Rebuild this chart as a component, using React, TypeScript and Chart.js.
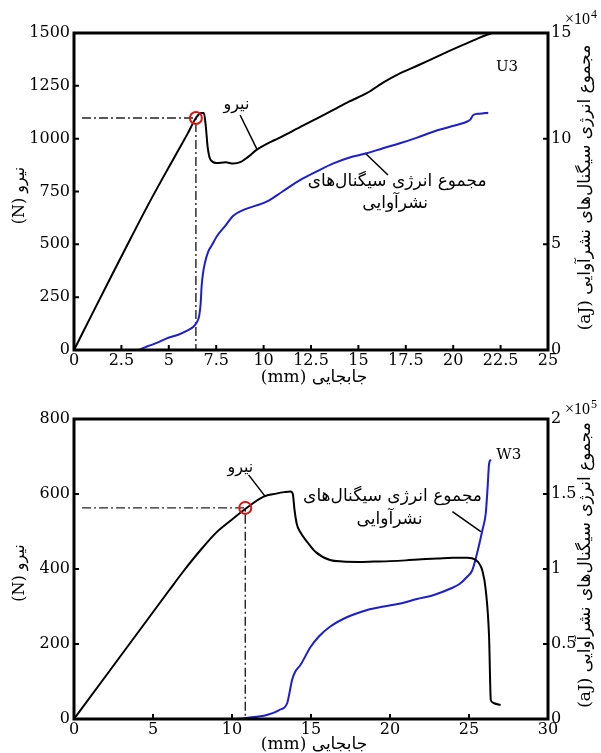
import React, { useEffect, useRef } from 'react';
import { Chart, registerables } from 'chart.js';

Chart.register(...registerables);

// ---------- U3 (top chart) ----------
const U3_FORCE_X = [0, 1, 2, 3, 4, 5, 5.5, 6, 6.43, 6.7, 6.85, 6.95, 7.05, 7.2, 7.5, 8.0, 8.4, 8.8, 9.2, 9.64, 10.2, 10.8, 11.5, 11.92, 12.8, 13.68, 14.5, 15.44, 16.3, 17.19, 18.1, 18.95, 19.8, 20.71, 21.4, 22.03];
const U3_FORCE_Y = [0, 178, 355, 530, 702, 865, 945, 1025, 1098, 1122, 1122, 1060, 960, 900, 885, 888, 882, 890, 915, 948, 977, 1003, 1035, 1055, 1095, 1136, 1175, 1215, 1265, 1309, 1345, 1380, 1415, 1451, 1478, 1500];
const U3_ENERGY_X = [0, 3.3, 3.8, 4.4, 4.89, 5.5, 5.94, 6.3, 6.47, 6.6, 6.68, 6.73, 6.8, 6.9, 7.08, 7.3, 7.52, 8.0, 8.4, 9.0, 10.16, 11.0, 11.92, 12.8, 13.68, 14.5, 15.44, 16.3, 17.19, 18.1, 18.95, 19.8, 20.71, 20.9, 21.06, 21.4, 21.85];
const U3_ENERGY_Y = [0, 0, 0.15, 0.35, 0.55, 0.72, 0.9, 1.1, 1.3, 1.6, 2.2, 3.0, 3.6, 4.1, 4.65, 5.0, 5.36, 5.9, 6.35, 6.65, 7.02, 7.5, 8.04, 8.45, 8.83, 9.1, 9.31, 9.55, 9.78, 10.05, 10.33, 10.55, 10.8, 10.9, 11.12, 11.18, 11.23];
const U3_MARK = [6.43, 1098];
const U3_GUIDE_X = [0.42, 6.43, 6.43];
const U3_GUIDE_Y = [1098, 1098, 0];
const U3_FORCE_LEADER_X = [8.76, 9.64];
const U3_FORCE_LEADER_Y = [1112, 952];
const U3_ENERGY_LEADER_X = [15.35, 16.56];
const U3_ENERGY_LEADER_Y = [9.32, 8.28];
const U3_X_TICKS = { max: 25, step: 2.5 };
const U3_Y_TICKS = { max: 1500, step: 250 };
const U3_Y1_TICKS = { max: 15, step: 5 };

// ---------- W3 (bottom chart) ----------
const W3_FORCE_X = [0, 2, 4, 6, 7, 8, 9, 10, 10.84, 12.0, 12.8, 13.3, 13.7, 13.85, 13.95, 14.1, 14.3, 14.8, 15.3, 16.2, 17, 18, 19, 20, 21, 22, 23, 24, 24.9, 25.4, 25.7, 25.85, 26.06, 26.27, 26.38, 26.5, 26.59, 27.0];
const W3_FORCE_Y = [0, 114, 228, 342, 398, 450, 497, 532, 560, 593, 601, 605, 607, 600, 560, 520, 500, 470, 445, 424, 420, 419, 420, 421, 423, 426, 428, 430, 430, 425, 411, 395, 344, 220, 51, 44, 42, 37];
const W3_ENERGY_X = [0, 10.1, 11, 12.2, 13, 13.49, 13.65, 13.8, 14.0, 14.33, 14.97, 15.5, 16.2, 17.3, 18.56, 19.6, 20.67, 21.7, 22.78, 23.84, 24.4, 24.9, 25.2, 25.5, 25.85, 26.06, 26.17, 26.27, 26.38];
const W3_ENERGY_Y = [0, 0, 0.008, 0.027, 0.06, 0.105, 0.18, 0.26, 0.315, 0.36, 0.48, 0.55, 0.615, 0.68, 0.727, 0.75, 0.77, 0.8, 0.827, 0.87, 0.9, 0.95, 0.99, 1.1, 1.26, 1.37, 1.53, 1.7, 1.73];
const W3_MARK = [10.84, 563];
const W3_GUIDE_X = [0.51, 10.84, 10.84];
const W3_GUIDE_Y = [563, 563, 0];
const W3_FORCE_LEADER_X = [11.05, 12.11];
const W3_FORCE_LEADER_Y = [651, 593];
const W3_ENERGY_LEADER_X = [23.95, 25.75];
const W3_ENERGY_LEADER_Y = [1.382, 1.249];
const W3_X_TICKS = { max: 30, step: 5 };
const W3_Y_TICKS = { max: 800, step: 200 };
const W3_Y1_TICKS = { max: 2, step: 0.5 };

// ---------- texts ----------
const X_TITLE = 'جابجایی (mm)';
const Y_TITLE = 'نیرو (N)';
const Y1_TITLE = 'مجموع انرژی سیگنال‌های نشرآوایی (aJ)';
const FORCE_LABEL = 'نیرو';
const ENERGY_LABEL_1 = 'مجموع انرژی سیگنال‌های';
const ENERGY_LABEL_2 = 'نشرآوایی';

const SERIF = '"DejaVu Serif", "DejaVu Sans", serif';
const NARROW_SERIF = '"Liberation Serif", "DejaVu Serif", serif';

type Spec = {
  forceX: number[]; forceY: number[];
  energyX: number[]; energyY: number[];
  mark: number[]; guideX: number[]; guideY: number[];
  fLeadX: number[]; fLeadY: number[];
  eLeadX: number[]; eLeadY: number[];
  xt: { max: number; step: number };
  yt: { max: number; step: number };
  y1t: { max: number; step: number };
  height: number; padTop: number; xAxisH: number;
  exponent: string; expDy: number;
  tag: string; tagPos: number[];
  forceLabelPos: number[];
  energyLabelPos1: number[];
  energyLabelPos2: number[];
  xTitleDy: number;
};

const pts = (xs: number[], ys: number[]) => xs.map((x, i) => ({ x, y: ys[i] }));
const fmt = (v: any) => `${Number(v)}`;

function makeChart(canvas: HTMLCanvasElement, s: Spec) {
  const tickFont = { family: SERIF, size: 16 };
  const overlay = {
    id: 'overlay',
    afterDraw(chart: any) {
      const ctx = chart.ctx as CanvasRenderingContext2D;
      const a = chart.chartArea;
      const sx = chart.scales.x, sy = chart.scales.y, sy1 = chart.scales.y1;
      ctx.save();
      // frame
      ctx.strokeStyle = '#000';
      ctx.lineWidth = 3;
      ctx.strokeRect(a.left, a.top, a.right - a.left, a.bottom - a.top);
      // inward ticks
      ctx.lineWidth = 2;
      ctx.beginPath();
      sx.ticks.forEach((t: any) => {
        const p = sx.getPixelForValue(t.value);
        ctx.moveTo(p, a.bottom); ctx.lineTo(p, a.bottom - 5);
      });
      sy.ticks.forEach((t: any) => {
        const p = sy.getPixelForValue(t.value);
        ctx.moveTo(a.left, p); ctx.lineTo(a.left + 5, p);
      });
      sy1.ticks.forEach((t: any) => {
        const p = sy1.getPixelForValue(t.value);
        ctx.moveTo(a.right, p); ctx.lineTo(a.right - 5, p);
      });
      ctx.stroke();

      ctx.fillStyle = '#000';
      ctx.textBaseline = 'middle';
      ctx.textAlign = 'center';
      ctx.direction = 'rtl';
      // x title
      ctx.font = `17px ${SERIF}`;
      ctx.fillText(X_TITLE, (a.left + a.right) / 2 + 3, a.bottom + s.xTitleDy);
      // left title
      const midY = (a.top + a.bottom) / 2;
      ctx.save();
      ctx.translate(20, midY + 4);
      ctx.rotate(-Math.PI / 2);
      ctx.font = `16px ${SERIF}`;
      ctx.fillText(Y_TITLE, 0, 0);
      ctx.restore();
      // right title
      ctx.save();
      ctx.translate(586, midY - 4);
      ctx.rotate(-Math.PI / 2);
      ctx.font = `17px ${SERIF}`;
      ctx.fillText(Y1_TITLE, 0, 0);
      ctx.restore();
      // series labels
      ctx.font = `16px ${SERIF}`;
      ctx.fillText(FORCE_LABEL, sx.getPixelForValue(s.forceLabelPos[0]), sy.getPixelForValue(s.forceLabelPos[1]));
      ctx.font = `17px ${SERIF}`;
      ctx.fillText(ENERGY_LABEL_1, sx.getPixelForValue(s.energyLabelPos1[0]), sy1.getPixelForValue(s.energyLabelPos1[1]));
      ctx.fillText(ENERGY_LABEL_2, sx.getPixelForValue(s.energyLabelPos2[0]), sy1.getPixelForValue(s.energyLabelPos2[1]));
      // tag
      ctx.direction = 'ltr';
      ctx.font = `15px ${SERIF}`;
      ctx.fillText(s.tag, sx.getPixelForValue(s.tagPos[0]), sy1.getPixelForValue(s.tagPos[1]));
      // exponent
      ctx.textAlign = 'left';
      ctx.font = `16px ${NARROW_SERIF}`;
      const ex = a.right + 17;
      const ey = a.top + s.expDy;
      ctx.fillText('×10', ex, ey);
      const w = ctx.measureText('×10').width;
      ctx.font = `12px ${NARROW_SERIF}`;
      ctx.fillText(s.exponent, ex + w + 1, ey - 5);
      ctx.restore();
    },
  };

  return new Chart(canvas, {
    type: 'line',
    data: {
      datasets: [
        {
          data: [{ x: s.mark[0], y: s.mark[1] }], yAxisID: 'y', showLine: false,
          pointRadius: 6, pointBorderColor: '#e01010', pointBackgroundColor: 'rgba(0,0,0,0)', pointBorderWidth: 2,
        },
        {
          data: pts(s.forceX, s.forceY), yAxisID: 'y', borderColor: '#000', borderWidth: 2, pointRadius: 0,
          cubicInterpolationMode: 'monotone',
        },
        {
          data: pts(s.energyX, s.energyY), yAxisID: 'y1', borderColor: '#1e1ec8', borderWidth: 2, pointRadius: 0,
          cubicInterpolationMode: 'monotone',
        },
        {
          data: pts(s.guideX, s.guideY), yAxisID: 'y', borderColor: '#222', borderWidth: 1.4, pointRadius: 0,
          borderDash: [9, 3, 2, 3],
        },
        {
          data: pts(s.fLeadX, s.fLeadY), yAxisID: 'y', borderColor: '#000', borderWidth: 1.5, pointRadius: 0,
        },
        {
          data: pts(s.eLeadX, s.eLeadY), yAxisID: 'y1', borderColor: '#000', borderWidth: 1.5, pointRadius: 0,
        },
      ] as any,
    },
    options: {
      animation: false,
      responsive: false,
      layout: { padding: { top: s.padTop, left: 0, right: 0, bottom: 0 } },
      plugins: { legend: { display: false }, tooltip: { enabled: false } },
      scales: {
        x: {
          type: 'linear', min: 0, max: s.xt.max,
          ticks: { stepSize: s.xt.step, font: tickFont, color: '#000', padding: 1, maxRotation: 0, callback: fmt },
          grid: { display: false, drawTicks: false }, border: { display: false },
          afterFit: (sc: any) => { sc.height = s.xAxisH; },
        },
        y: {
          type: 'linear', position: 'left', min: 0, max: s.yt.max,
          ticks: { stepSize: s.yt.step, font: tickFont, color: '#000', padding: 4, callback: fmt },
          grid: { display: false, drawTicks: false }, border: { display: false },
          afterFit: (sc: any) => { sc.width = 74; },
        },
        y1: {
          type: 'linear', position: 'right', min: 0, max: s.y1t.max,
          ticks: { stepSize: s.y1t.step, font: tickFont, color: '#000', padding: 3, callback: fmt },
          grid: { display: false, drawTicks: false }, border: { display: false },
          afterFit: (sc: any) => { sc.width = 53; },
        },
      },
    } as any,
    plugins: [overlay as any],
  });
}

const TOP: Spec = {
  forceX: U3_FORCE_X, forceY: U3_FORCE_Y, energyX: U3_ENERGY_X, energyY: U3_ENERGY_Y,
  mark: U3_MARK, guideX: U3_GUIDE_X, guideY: U3_GUIDE_Y,
  fLeadX: U3_FORCE_LEADER_X, fLeadY: U3_FORCE_LEADER_Y,
  eLeadX: U3_ENERGY_LEADER_X, eLeadY: U3_ENERGY_LEADER_Y,
  xt: U3_X_TICKS, yt: U3_Y_TICKS, y1t: U3_Y1_TICKS,
  height: 392, padTop: 33, xAxisH: 42,
  exponent: '4', expDy: -13,
  tag: 'U3', tagPos: [22.84, 13.39],
  forceLabelPos: [8.57, 1159],
  energyLabelPos1: [17.04, 7.95],
  energyLabelPos2: [16.94, 6.91],
  xTitleDy: 28,
};

const BOTTOM: Spec = {
  forceX: W3_FORCE_X, forceY: W3_FORCE_Y, energyX: W3_ENERGY_X, energyY: W3_ENERGY_Y,
  mark: W3_MARK, guideX: W3_GUIDE_X, guideY: W3_GUIDE_Y,
  fLeadX: W3_FORCE_LEADER_X, fLeadY: W3_FORCE_LEADER_Y,
  eLeadX: W3_ENERGY_LEADER_X, eLeadY: W3_ENERGY_LEADER_Y,
  xt: W3_X_TICKS, yt: W3_Y_TICKS, y1t: W3_Y1_TICKS,
  height: 361, padTop: 27, xAxisH: 34,
  exponent: '5', expDy: -9,
  tag: 'W3', tagPos: [27.52, 1.76],
  forceLabelPos: [10.53, 669],
  energyLabelPos1: [20.16, 1.48],
  energyLabelPos2: [19.97, 1.327],
  xTitleDy: 26,
};

function ChartBox({ spec, top }: { spec: Spec; top: number }) {
  const ref = useRef<HTMLCanvasElement | null>(null);
  useEffect(() => {
    if (!ref.current) return;
    const c = makeChart(ref.current, spec);
    return () => c.destroy();
  }, [spec]);
  return (
    <canvas
      ref={ref}
      width={601}
      height={spec.height}
      style={{ position: 'absolute', left: 0, top, width: 601, height: spec.height, display: 'block' }}
    />
  );
}

export default function App() {
  return (
    <div style={{ position: 'absolute', left: 0, top: 0, width: 601, height: 753, background: '#fff' }}>
      <ChartBox spec={TOP} top={0} />
      <ChartBox spec={BOTTOM} top={392} />
    </div>
  );
}
